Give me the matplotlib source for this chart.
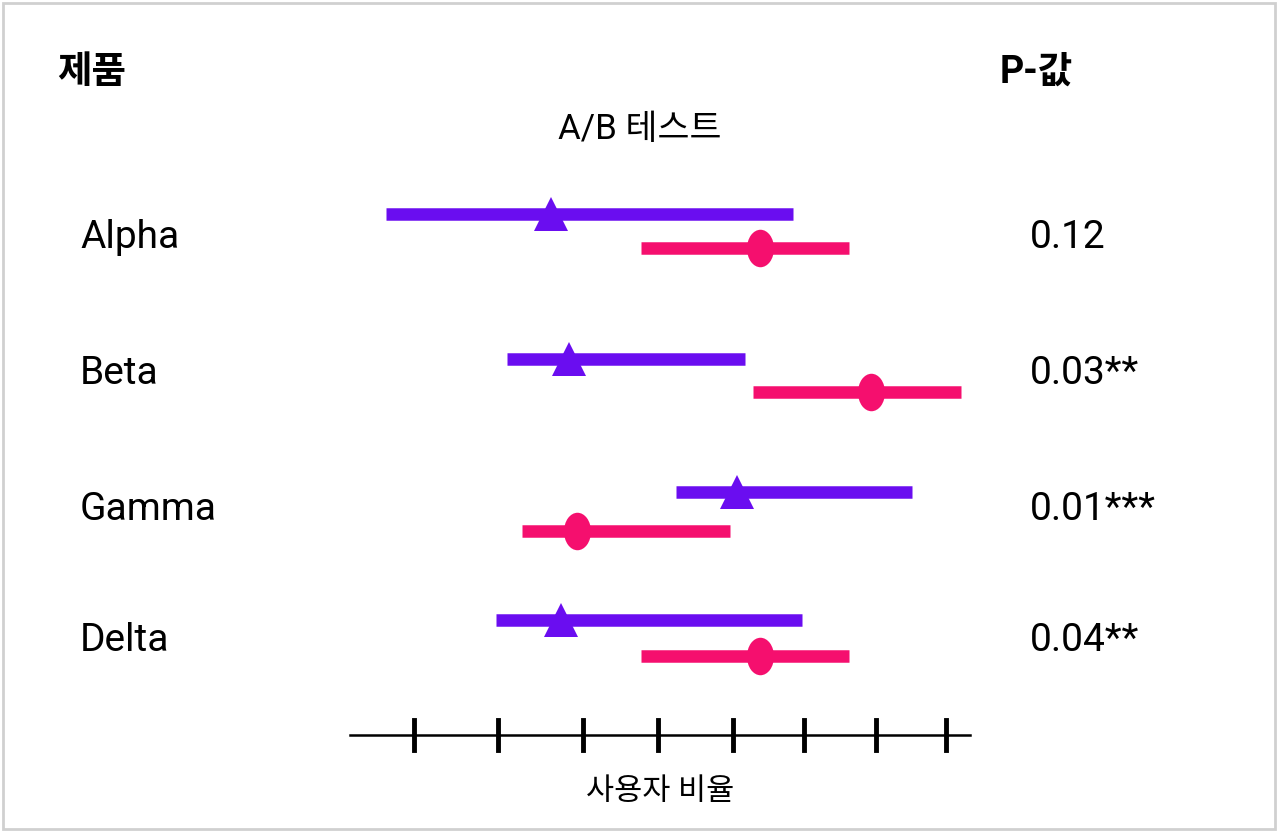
import matplotlib
matplotlib.use("Agg")
import matplotlib.pyplot as plt
import matplotlib.path as mpath
import matplotlib.transforms as mtrans

plt.rcParams['font.family'] = ['Roboto', 'Noto Sans CJK KR', 'DejaVu Sans']

products = ["Alpha", "Beta", "Gamma", "Delta"]
pvalues = ["0.12", "0.03**", "0.01***", "0.04**"]
a_low = [3.86, 5.07, 6.76, 4.96]
a_est = [5.51, 5.69, 7.37, 5.61]
a_high = [7.93, 7.45, 9.12, 8.02]
b_low = [6.41, 7.53, 5.22, 6.41]
b_est = [7.60, 8.71, 5.77, 7.60]
b_high = [8.49, 9.61, 7.30, 8.49]
ticks = [4.14, 4.98, 5.83, 6.58, 7.33, 8.04, 8.76, 9.46]

row_y = [2.37, 3.74, 5.10, 6.41]
a_off = [-0.23, -0.15, -0.18, -0.21]
b_off = [0.11, 0.18, 0.21, 0.15]

purple = "#6a0df0"
pink = "#f50f6e"

fig = plt.figure(figsize=(12.8, 8.32), dpi=100)
ax = fig.add_axes([0, 0, 1, 1])
ax.set_xlim(0, 12.8)
ax.set_ylim(8.32, 0)
ax.axis('off')

ell = mpath.Path.unit_circle().transformed(mtrans.Affine2D().scale(0.72, 1.0))

for i in range(4):
    ya = row_y[i] + a_off[i]
    yb = row_y[i] + b_off[i]
    ax.plot([a_low[i], a_high[i]], [ya, ya], color=purple, lw=9, solid_capstyle='butt')
    ax.plot([a_est[i]], [ya], marker='^', color=purple, ms=24, markeredgewidth=0)
    ax.plot([b_low[i], b_high[i]], [yb, yb], color=pink, lw=9, solid_capstyle='butt')
    ax.plot([b_est[i]], [yb], marker=ell, color=pink, ms=27, markeredgewidth=0)
    ax.text(0.80, row_y[i], products[i], fontsize=28, va='center', ha='left')
    ax.text(10.30, row_y[i], pvalues[i], fontsize=28, va='center', ha='left')

ax.plot([3.50, 9.70], [7.35, 7.35], color='black', lw=1.8)
for t in ticks:
    ax.plot([t, t], [7.20, 7.50], color='black', lw=3.5)

ax.text(0.57, 0.72, "제품", fontsize=27, fontweight='bold', va='center', ha='left')
ax.text(10.00, 0.72, "P-값", fontsize=27, fontweight='bold', va='center', ha='left')
ax.text(6.40, 1.30, "A/B 테스트", fontsize=25, va='center', ha='center')
ax.text(6.60, 7.92, "사용자 비율", fontsize=22, va='center', ha='center')

fig.patches.append(plt.Rectangle((0.002, 0.004), 0.994, 0.992, transform=fig.transFigure,
                                 fill=False, edgecolor='#d0d0d0', lw=2))
fig.savefig("out.png", dpi=100)
